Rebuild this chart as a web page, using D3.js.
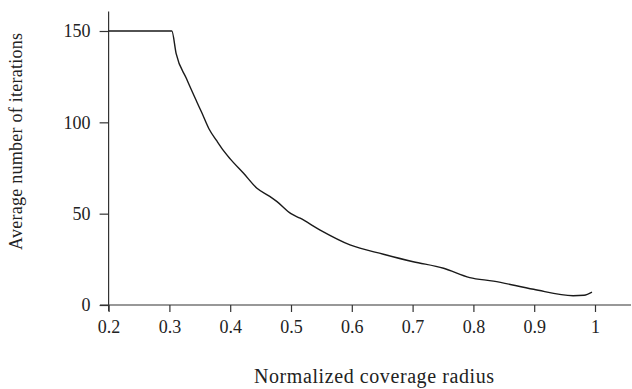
<!DOCTYPE html>
<html>
<head>
<meta charset="utf-8">
<script src="https://cdn.jsdelivr.net/npm/d3@7"></script>
<style>
  body { margin: 0; background: #fff; }
  svg { display: block; }
  .axis text { font-family: "Liberation Serif", serif; font-size: 18px; fill: #222; }
  .axis line, .axis-line { stroke: #333; stroke-width: 1.2; }
  .label { font-family: "Liberation Serif", serif; fill: #222; }
  .curve { fill: none; stroke: #1a1a1a; stroke-width: 1.4; }
</style>
</head>
<body>
<div id="chart"></div>
<script>
// data
const radius = [0.2, 0.25, 0.304, 0.311, 0.328, 0.345, 0.353, 0.365, 0.378, 0.389, 0.4, 0.422, 0.444, 0.465, 0.477, 0.5, 0.515, 0.548, 0.597, 0.652, 0.701, 0.751, 0.794, 0.833, 0.899, 0.964, 0.982, 0.995];
const iterations = [150, 150, 150, 137.8, 124, 111.3, 105.5, 96.5, 89.8, 84.5, 80, 72.1, 63.9, 59.5, 56.6, 50, 47.5, 41, 32.9, 27.8, 23.7, 20.1, 15.0, 13.1, 8.6, 5.1, 5.3, 7.0];
const xTicks = [0.2, 0.3, 0.4, 0.5, 0.6, 0.7, 0.8, 0.9, 1];
const yTicks = [0, 50, 100, 150];
const xTitle = "Normalized coverage radius";
const yTitle = "Average number of iterations";

const width = 632, height = 389;
const x0 = 108.6, y0 = 305;

//scale
const xScale = d3.scaleLinear().domain([0.2, 1]).range([x0, 595]);
const yScale = d3.scaleLinear().domain([0, 150]).range([y0, 31]);

const svg = d3.select("#chart").append("svg")
  .attr("width", width)
  .attr("height", height);

//axis lines
svg.append("line").attr("class", "axis-line")
  .attr("x1", 100).attr("x2", 631).attr("y1", y0).attr("y2", y0);
svg.append("line").attr("class", "axis-line")
  .attr("x1", x0).attr("x2", x0).attr("y1", 11.5).attr("y2", 311);

//x-axis
const xAxis = svg.append("g").attr("class", "axis x-axis")
  .attr("transform", `translate(0,${y0})`)
  .call(d3.axisBottom(xScale).tickValues(xTicks).tickSize(7).tickPadding(8)
    .tickFormat(d => d === 1 ? "1" : d3.format(".1f")(d)));
xAxis.select(".domain").remove();

//y-axis
const yAxis = svg.append("g").attr("class", "axis y-axis")
  .attr("transform", `translate(${x0},0)`)
  .call(d3.axisLeft(yScale).tickValues(yTicks).tickSize(9).tickPadding(9));
yAxis.select(".domain").remove();

//mark
const data = radius.map((r, i) => ({ r, v: iterations[i] }));
svg.append("path")
  .datum(data)
  .attr("class", "curve")
  .attr("d", d3.line()
    .x(d => xScale(d.r))
    .y(d => yScale(d.v))
    .curve(d3.curveMonotoneX));

//titles
svg.append("text").attr("class", "label")
  .attr("x", 374).attr("y", 383)
  .attr("text-anchor", "middle")
  .style("font-size", "20px")
  .attr("textLength", 240)
  .attr("lengthAdjust", "spacing")
  .text(xTitle);
svg.append("text").attr("class", "label")
  .attr("transform", "translate(22,141.5) rotate(-90)")
  .attr("text-anchor", "middle")
  .style("font-size", "18px")
  .attr("textLength", 217)
  .attr("lengthAdjust", "spacing")
  .text(yTitle);
</script>
</body>
</html>
